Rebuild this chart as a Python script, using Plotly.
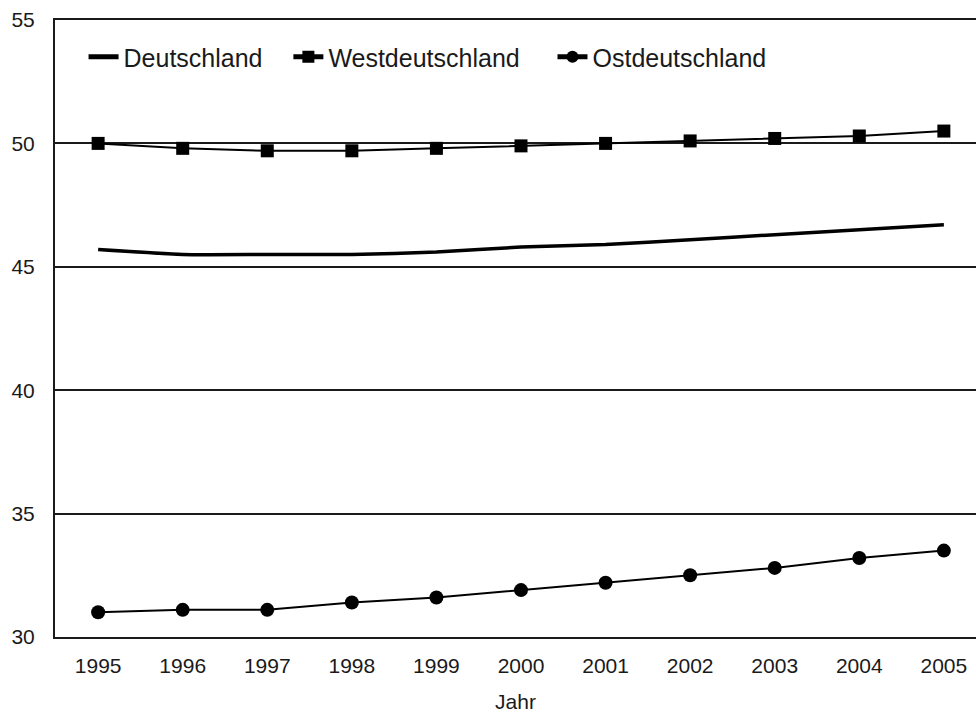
import plotly.graph_objects as go

years = [1995, 1996, 1997, 1998, 1999, 2000, 2001, 2002, 2003, 2004, 2005]
deutschland = [45.7, 45.5, 45.5, 45.5, 45.6, 45.8, 45.9, 46.1, 46.3, 46.5, 46.7]
westdeutschland = [50.0, 49.8, 49.7, 49.7, 49.8, 49.9, 50.0, 50.1, 50.2, 50.3, 50.5]
ostdeutschland = [31.0, 31.1, 31.1, 31.4, 31.6, 31.9, 32.2, 32.5, 32.8, 33.2, 33.5]
y_ticks = [30, 35, 40, 45, 50, 55]

FONT = "Liberation Sans, Arial, sans-serif"
NB = "\u00a0"

fig = go.Figure()
fig.add_trace(go.Scatter(
    x=years, y=deutschland, mode="lines", name="Deutschland" + NB * 3,
    line=dict(color="black", width=3.5, shape="spline", smoothing=0.5),
))
fig.add_trace(go.Scatter(
    x=years, y=westdeutschland, mode="lines+markers", name="Westdeutschland" + NB * 4,
    line=dict(color="black", width=2),
    marker=dict(symbol="square", size=13, color="black"),
))
fig.add_trace(go.Scatter(
    x=years, y=ostdeutschland, mode="lines+markers", name="Ostdeutschland",
    line=dict(color="black", width=2),
    marker=dict(symbol="circle", size=14, color="black"),
))

fig.update_layout(
    width=976, height=713,
    margin=dict(l=55, r=0, t=20, b=76),
    paper_bgcolor="white", plot_bgcolor="white",
    font=dict(family=FONT, color="#1a1a1a", size=21),
    showlegend=True,
    legend=dict(
        orientation="h", x=0.031, y=0.94, xanchor="left", yanchor="middle",
        font=dict(size=25, family=FONT, color="#1a1a1a"),
        bgcolor="rgba(0,0,0,0)", itemsizing="constant",
    ),
    xaxis=dict(
        range=[1994.49, 2005.38], tickmode="array", tickvals=years,
        ticktext=[str(y) for y in years],
        showgrid=False, zeroline=False,
        showline=True, linecolor="#1a1a1a", linewidth=2, mirror=True,
        ticks="", ticklabelstandoff=9,
        title=dict(text="Jahr", standoff=20, font=dict(size=21)),
        tickfont=dict(size=21),
    ),
    yaxis=dict(
        range=[30, 55], tickmode="array", tickvals=y_ticks,
        showgrid=True, gridcolor="#1a1a1a", gridwidth=1.5,
        zeroline=False, showline=True, linecolor="#1a1a1a", linewidth=2,
        ticks="", ticklabelstandoff=14,
        tickfont=dict(size=21),
    ),
)

fig.write_html(
    "out.html",
    config={"displayModeBar": False},
    post_script="document.body.style.margin='0';document.body.style.overflow='hidden';",
)
